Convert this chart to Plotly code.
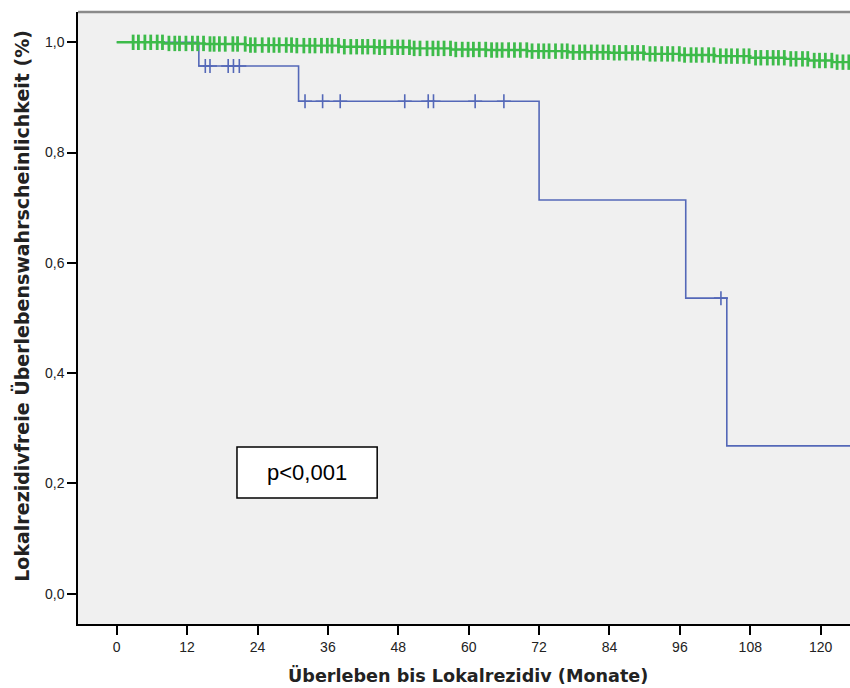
import plotly.graph_objects as go
import numpy as np

# ---- data ----
blue_times = [0, 14, 31, 72, 97, 104, 130]
blue_surv = [1.0, 0.957, 0.893, 0.714, 0.536, 0.268, 0.268]
blue_censor = [15.1, 15.9, 19.0, 19.9, 20.9, 32.1, 35.1, 38.1, 49.1, 53.1, 54.0,
               61.1, 66.0, 103.0]

green_times = [0, 8, 15, 22, 30, 38, 44, 50, 57, 63, 70, 77, 84, 90, 96, 102,
               108, 114, 118, 122, 130]
green_surv = [1.0, 0.998, 0.997, 0.995, 0.994, 0.992, 0.991, 0.989, 0.987, 0.986,
              0.984, 0.982, 0.981, 0.979, 0.977, 0.975, 0.972, 0.970, 0.967,
              0.964, 0.964]
green_censor = [2.8, 3.7, 4.8, 5.8, 6.9, 7.8, 8.9, 9.9, 10.7, 11.8, 12.9, 13.8,
                14.8, 15.9, 16.6, 17.5, 18.5, 19.8, 20.6, 21.9, 22.8, 23.6, 24.8,
                25.9, 26.8, 27.7, 28.9, 29.8, 30.7, 31.9, 32.9, 33.8, 34.9, 35.9,
                36.7, 37.8, 38.8, 39.9, 40.9, 41.9, 42.8, 43.9, 44.8, 45.7, 46.9,
                47.9, 48.8, 49.9, 50.7, 51.7, 52.9, 53.9, 54.8, 55.8, 56.9, 57.8,
                58.9, 59.9, 60.8, 61.8, 62.9, 63.9, 64.8, 65.7, 66.8, 67.8, 68.8,
                69.9, 70.8, 71.9, 72.8, 73.7, 74.8, 75.9, 76.8, 77.8, 78.9, 79.8,
                80.9, 81.9, 82.9, 83.8, 84.8, 85.7, 86.8, 87.9, 88.8, 89.8, 90.9,
                91.8, 92.9, 93.9, 94.8, 95.9, 96.8, 97.9, 98.8, 99.8, 100.9, 101.8,
                102.9, 103.9, 104.8, 105.8, 106.9, 107.8, 108.9, 109.8, 110.9,
                111.9, 112.8, 113.8, 114.9, 115.8, 116.9, 117.8, 118.9, 119.8,
                120.8, 121.9, 122.8, 123.8, 124.8]

x_ticks = [0, 12, 24, 36, 48, 60, 72, 84, 96, 108, 120]
y_ticks = [0.0, 0.2, 0.4, 0.6, 0.8, 1.0]
y_tick_labels = ["0,0", "0,2", "0,4", "0,6", "0,8", "1,0"]


def step_value(times, surv, t):
    idx = np.searchsorted(np.array(times), t, side="right") - 1
    return [surv[i] for i in np.atleast_1d(idx)]


GREEN = "#3dbb4a"
BLUE = "#5468b8"

fig = go.Figure()

fig.add_trace(go.Scatter(x=blue_times, y=blue_surv, mode="lines",
                         line=dict(color=BLUE, width=1.6, shape="hv"),
                         hoverinfo="skip", showlegend=False))
fig.add_trace(go.Scatter(x=blue_censor, y=step_value(blue_times, blue_surv, blue_censor),
                         mode="markers",
                         marker=dict(symbol="cross-thin", size=10,
                                     line=dict(color=BLUE, width=1.6)),
                         hoverinfo="skip", showlegend=False))

fig.add_trace(go.Scatter(x=green_times, y=green_surv, mode="lines",
                         line=dict(color=GREEN, width=2.4, shape="hv"),
                         hoverinfo="skip", showlegend=False))
fig.add_trace(go.Scatter(x=green_censor, y=step_value(green_times, green_surv, green_censor),
                         mode="markers",
                         marker=dict(symbol="line-ns", size=11,
                                     line=dict(color=GREEN, width=2.8)),
                         hoverinfo="skip", showlegend=False))

# p-value box
fig.add_shape(type="rect", xref="x", yref="y", x0=20.5, x1=44.4, y0=0.1736, y1=0.266,
              line=dict(color="black", width=1.5), fillcolor="white", layer="above")
fig.add_annotation(x=32.45, y=0.22, xref="x", yref="y", text="p<0,001",
                   showarrow=False,
                   font=dict(family="Liberation Sans, Arial", size=22, color="black"))

# top frame line
fig.add_shape(type="line", xref="paper", yref="paper", x0=0, x1=1, y0=1, y1=1,
              line=dict(color="#8a8a8a", width=2.5))

# axis titles
fig.add_annotation(x=0.5, y=0, xref="paper", yref="paper", xshift=4, yshift=-51,
                   yanchor="middle", xanchor="center", showarrow=False,
                   text="<b>Überleben bis Lokalrezidiv (Monate)</b>",
                   font=dict(family="DejaVu Sans", size=17.6, color="#222"))
fig.add_annotation(x=0, y=0.52, xref="paper", yref="paper", xshift=-56,
                   xanchor="center", yanchor="middle", textangle=-90, showarrow=False,
                   text="<b>Lokalrezidivfreie Überlebenswahrscheinlichkeit (%)</b>",
                   font=dict(family="DejaVu Sans", size=19, color="#222"))

fig.update_layout(
    width=850, height=688,
    margin=dict(l=78, r=0, t=12, b=64, pad=0),
    paper_bgcolor="white",
    plot_bgcolor="#f0f0f0",
    font=dict(family="Liberation Sans, Arial", color="#222"),
    xaxis=dict(range=[-6.6, 125.0], tickvals=x_ticks, ticktext=[str(v) for v in x_ticks],
               ticks="outside", ticklen=9, tickwidth=1.5, tickcolor="black",
               showline=True, linecolor="black", linewidth=1.5,
               showgrid=False, zeroline=False, automargin=False,
               tickfont=dict(size=14, color="#222")),
    yaxis=dict(range=[-0.055, 1.055], tickvals=y_ticks, ticktext=y_tick_labels,
               ticks="outside", ticklen=9, tickwidth=1.5, tickcolor="black",
               showline=True, linecolor="black", linewidth=1.5,
               showgrid=False, zeroline=False, automargin=False,
               tickfont=dict(size=14, color="#222")),
)

fig.write_html("out.html", config={"displayModeBar": False},
               post_script="document.body.style.margin='0';document.body.style.overflow='hidden';")
